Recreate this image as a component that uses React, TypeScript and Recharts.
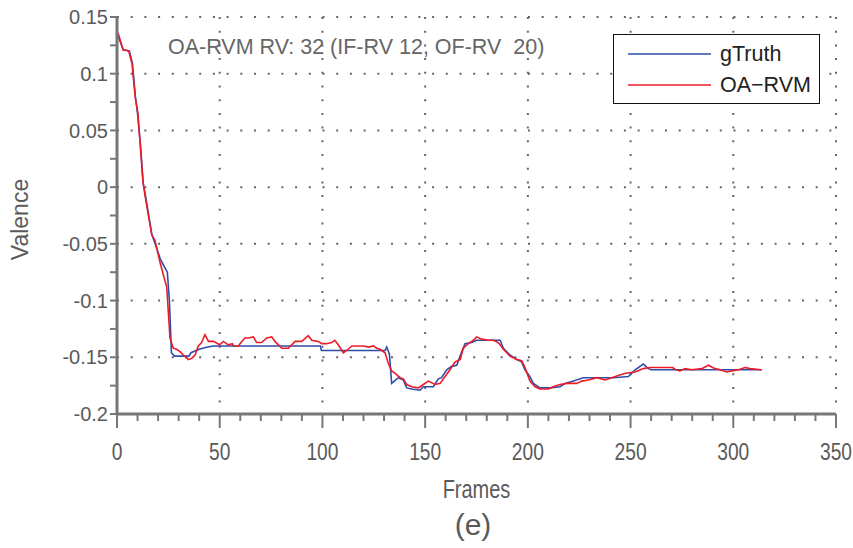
import React from "react";
import { LineChart, Line, XAxis, YAxis, CartesianGrid, Legend } from "recharts";

// gTruth (blue) — frame / valence pairs
const gtFrames = [
  0, 3, 6, 7.5, 9, 10, 11.5, 12.7, 14, 17, 19, 21, 23, 24.5, 25.5, 26.5, 28, 35, 36, 40, 44, 47,
  99, 99.5, 130.5, 131.3, 132.6, 133.7, 137, 139.4, 141, 143.5, 147.5, 149.1, 154, 156.4, 158,
  160.5, 162.9, 165.4, 167, 169.4, 172.7, 175.1, 186.5, 188.1, 191.3, 194.6, 197, 198.6, 201,
  202.7, 205.9, 210.8, 215.7, 218.1, 222.2, 227, 241.6, 249, 252.2, 256.2, 258.7, 260, 314,
];
const gtValues = [
  0.136, 0.121, 0.12, 0.109, 0.079, 0.065, 0.035, 0.004, -0.009, -0.042, -0.052, -0.063, -0.07,
  -0.075, -0.1, -0.146, -0.149, -0.149, -0.146, -0.143, -0.141, -0.14,
  -0.14, -0.144, -0.144, -0.141, -0.147, -0.173, -0.168, -0.17, -0.177, -0.178, -0.179, -0.176,
  -0.176, -0.169, -0.168, -0.161, -0.158, -0.157, -0.149, -0.138, -0.137, -0.135, -0.135, -0.142,
  -0.148, -0.152, -0.154, -0.161, -0.167, -0.173, -0.177, -0.177, -0.176, -0.173, -0.171, -0.168,
  -0.168, -0.167, -0.161, -0.156, -0.16, -0.161, -0.161,
];

// OA-RVM (red)
const rvmFrames = [
  0.5, 1.5, 3, 5.7, 7.3, 8.9, 10.2, 11.4, 12.7, 13.8, 16.9, 18.5, 20.9, 23.4, 24.2, 25.8, 27.4,
  29, 30.7, 32.3, 34.7, 36.4, 38, 39.6, 41.2, 42.8, 44.5, 47, 50, 51.8, 54.2, 56.2, 56.7, 59.1,
  60.7, 62.3, 63.9, 66.4, 68, 70.4, 72.9, 75.3, 76.9, 80.2, 83.4, 86.7, 89.9, 93.1, 94.8, 98,
  99.6, 102, 104.5, 106, 107.7, 110.2, 111.8, 114.3, 117.5, 120, 122.4, 124.8, 126.4, 128, 130.5,
  132, 133.7, 135.3, 137.8, 139.4, 141, 143.5, 146.7, 149.1, 151.6, 154.8, 157.3, 159.7, 162.1,
  164.6, 167, 168.6, 171, 173.5, 175.1, 177.6, 180.8, 183.2, 185.6, 188.1, 191.3, 194.6, 197,
  198.6, 201, 203.5, 205.9, 210, 212.4, 215.7, 219, 223.8, 226.2, 229.5, 233.5, 237.6, 240.8,
  244, 247.5, 252.2, 256.2, 259.5, 265, 270.5, 272, 274, 276.5, 279.8, 284.7, 287.9, 291.1,
  293.6, 296.8, 299.3, 302.5, 305.7, 308.2, 313.5,
];
const rvmValues = [
  0.136, 0.13, 0.121, 0.12, 0.109, 0.079, 0.065, 0.035, 0.004, -0.009, -0.042, -0.047, -0.066,
  -0.083, -0.088, -0.133, -0.142, -0.143, -0.145, -0.148, -0.152, -0.151, -0.148, -0.14, -0.137,
  -0.13, -0.136, -0.136, -0.139, -0.136, -0.139, -0.138, -0.14, -0.14, -0.136, -0.133, -0.133,
  -0.132, -0.137, -0.137, -0.133, -0.132, -0.136, -0.142, -0.142, -0.136, -0.136, -0.131, -0.135,
  -0.136, -0.138, -0.138, -0.137, -0.135, -0.139, -0.146, -0.144, -0.14, -0.14, -0.14, -0.141,
  -0.14, -0.142, -0.143, -0.146, -0.155, -0.162, -0.164, -0.168, -0.169, -0.174, -0.176, -0.177,
  -0.174, -0.171, -0.174, -0.173, -0.167, -0.161, -0.154, -0.152, -0.142, -0.138, -0.135, -0.132,
  -0.134, -0.135, -0.135, -0.137, -0.143, -0.149, -0.152, -0.153, -0.159, -0.171, -0.176, -0.178,
  -0.178, -0.176, -0.174, -0.173, -0.173, -0.171, -0.17, -0.168, -0.17, -0.168, -0.166, -0.164,
  -0.163, -0.16, -0.159, -0.159, -0.159, -0.161, -0.162, -0.16, -0.161, -0.16, -0.157, -0.16,
  -0.161, -0.163, -0.162, -0.161, -0.159, -0.16, -0.161,
];

const xTicks = [
  0, 10, 20, 30, 40, 50, 60, 70, 80, 90, 100, 110, 120, 130, 140, 150, 160, 170, 180, 190, 200,
  210, 220, 230, 240, 250, 260, 270, 280, 290, 300, 310, 320, 330, 340, 350,
];
const xMajor = [0, 50, 100, 150, 200, 250, 300, 350];
const yTicks = [
  -0.2, -0.175, -0.15, -0.125, -0.1, -0.075, -0.05, -0.025, 0, 0.025, 0.05, 0.075, 0.1, 0.125, 0.15,
];
const yMajor = [-0.2, -0.15, -0.1, -0.05, 0, 0.05, 0.1, 0.15];
const yMajorLabels = ["-0.2", "-0.15", "-0.1", "-0.05", "0", "0.05", "0.1", "0.15"];
const gridX = [50, 100, 150, 200, 250, 300, 350];
const gridY = [-0.15, -0.1, -0.05, 0, 0.05, 0.1, 0.15];

const series = [
  { name: "gTruth", color: "#2f4dab" },
  { name: "OA\u2212RVM", color: "#ec1c27" },
];

const gtData = gtFrames.map((f, i) => ({ f, v: gtValues[i] }));
const rvmData = rvmFrames.map((f, i) => ({ f, v: rvmValues[i] }));

const axisColor = "#777777";
const textColor = "#5a5a5a";
const sans = "'Liberation Sans', Arial, sans-serif";

// condensed look: regular sans squeezed horizontally
const NarrowText = ({ x, y, size, children }: any) => (
  <text
    transform={`translate(${x} ${y}) scale(0.8 1)`}
    textAnchor="middle"
    fill={textColor}
    fontSize={size}
    fontFamily={sans}
  >
    {children}
  </text>
);

const XTick = ({ x, y, payload }: any) => {
  const major = xMajor.includes(payload.value);
  return (
    <g>
      <line x1={x} x2={x} y1={y} y2={y + (major ? 14 : 7)} stroke={axisColor} strokeWidth={2} />
      {major && (
        <NarrowText x={x} y={y + 46} size={24}>
          {payload.value}
        </NarrowText>
      )}
    </g>
  );
};

const YTick = ({ x, y, payload }: any) => {
  const idx = yMajor.findIndex((m) => Math.abs(m - payload.value) < 1e-6);
  return (
    <g>
      <line x1={x} x2={x - 7} y1={y} y2={y} stroke={axisColor} strokeWidth={2} />
      {idx >= 0 && (
        <text x={x - 9} y={y} dy="0.36em" textAnchor="end" fill={textColor} fontSize={20} fontFamily={sans}>
          {yMajorLabels[idx]}
        </text>
      )}
    </g>
  );
};

const LegendBox = () => (
  <div
    style={{
      width: 205,
      height: 68,
      border: "1.5px solid #111",
      background: "#fff",
      position: "relative",
      fontFamily: sans,
      fontSize: 21.5,
      color: "#222",
    }}
  >
    {series.map((s, i) => (
      <div key={s.name} style={{ position: "absolute", left: 0, top: 19 + i * 31 - 12, height: 24, display: "flex", alignItems: "center" }}>
        <svg width={100} height={24} style={{ display: "block" }}>
          <line x1={14} x2={97} y1={12} y2={12} stroke={s.color} strokeWidth={1.6} />
        </svg>
        <span style={{ marginLeft: 6, lineHeight: "24px" }}>{s.name}</span>
      </div>
    ))}
  </div>
);

export default function App() {
  return (
    <div style={{ position: "absolute", left: 0, top: 0, width: 853, height: 548, background: "#fff" }}>
      <LineChart width={853} height={548} margin={{ top: 17, right: 17, left: 0, bottom: 44 }}>
        <CartesianGrid
          horizontal
          vertical
          horizontalValues={gridY}
          verticalValues={gridX}
          stroke="#666"
          strokeWidth={2}
          strokeDasharray="2 11.7"
        />
        <XAxis
          dataKey="f"
          type="number"
          domain={[0, 350]}
          ticks={xTicks}
          interval={0}
          tick={<XTick />}
          tickLine={false}
          tickSize={0}
          tickMargin={0}
          height={90}
          axisLine={{ stroke: axisColor, strokeWidth: 3 }}
          allowDataOverflow
          label={{
            content: ({ viewBox }: any) => (
              <NarrowText x={viewBox.x + viewBox.width / 2} y={viewBox.y + 84} size={25}>
                Frames
              </NarrowText>
            ),
          }}
        />
        <YAxis
          type="number"
          domain={[-0.2, 0.15]}
          ticks={yTicks}
          interval={0}
          tick={<YTick />}
          tickLine={false}
          tickSize={0}
          tickMargin={0}
          width={117}
          axisLine={{ stroke: axisColor, strokeWidth: 3 }}
          allowDataOverflow
          label={{
            content: ({ viewBox }: any) => {
              const cx = 28;
              const cy = viewBox.y + viewBox.height / 2 + 4;
              return (
                <text
                  x={cx}
                  y={cy}
                  textAnchor="middle"
                  transform={`rotate(-90 ${cx} ${cy})`}
                  fill={textColor}
                  fontSize={23}
                  fontFamily={sans}
                >
                  Valence
                </text>
              );
            },
          }}
        />
        <Legend
          layout="horizontal"
          verticalAlign="middle"
          align="center"
          wrapperStyle={{ position: "absolute", left: 613, top: 34, width: 208, height: 71 }}
          content={() => <LegendBox />}
        />
        <Line
          data={gtData}
          dataKey="v"
          name="gTruth"
          type="linear"
          dot={false}
          stroke={series[0].color}
          strokeWidth={1.6}
          isAnimationActive={false}
        />
        <Line
          data={rvmData}
          dataKey="v"
          name="OA-RVM"
          type="linear"
          dot={false}
          stroke={series[1].color}
          strokeWidth={1.6}
          isAnimationActive={false}
        />
      </LineChart>
      <div
        style={{
          position: "absolute",
          left: 168,
          top: 37,
          fontFamily: sans,
          fontSize: 21.5,
          lineHeight: 1,
          color: "#666",
          whiteSpace: "pre",
        }}
      >
        OA-RVM RV: 32 (IF-RV 12, OF-RV  20)
      </div>
      <div
        style={{
          position: "absolute",
          left: 0,
          width: 946,
          top: 510,
          textAlign: "center",
          fontFamily: sans,
          fontSize: 30,
          lineHeight: 1,
          color: textColor,
        }}
      >
        (e)
      </div>
    </div>
  );
}
